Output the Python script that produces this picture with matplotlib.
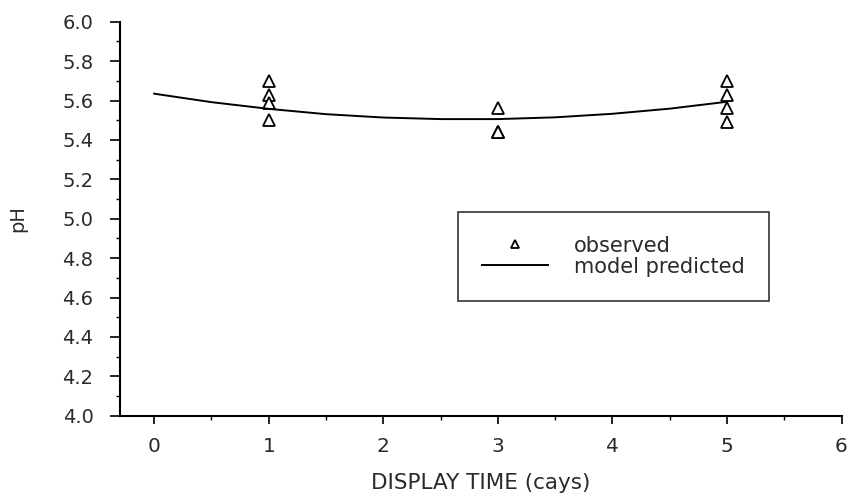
import matplotlib
matplotlib.use("Agg")
import matplotlib.pyplot as plt
from matplotlib.ticker import MultipleLocator, FormatStrFormatter

# observed pH, four samples per display day
obs_days = [1, 1, 1, 1, 3, 3, 3, 3, 5, 5, 5, 5]
obs_ph = [5.70, 5.63, 5.59, 5.50, 5.56, 5.44, 5.44, 5.44, 5.70, 5.63, 5.56, 5.49]

# model predicted curve
model_days = [0, 0.5, 1, 1.5, 2, 2.5, 3, 3.5, 4, 4.5, 5]
model_ph = [5.635, 5.592, 5.558, 5.531, 5.514, 5.506, 5.506, 5.515, 5.533, 5.559, 5.594]

x_ticks = [0, 1, 2, 3, 4, 5, 6]

plt.rcParams['font.family'] = ['DejaVu Sans']
text_color = '#2a2a2a'

fig = plt.figure(figsize=(8.5, 4.95), dpi=100)
ax = fig.add_axes([0.141, 0.160, 0.849, 0.796])

ax.plot(obs_days, obs_ph, linestyle='none', marker='^', markersize=8.5,
        markerfacecolor='white', markeredgecolor='black', markeredgewidth=1.3,
        label='observed')
ax.plot(model_days, model_ph, color='black', linewidth=1.4, label='model predicted')

ax.set_xlim(-0.3, 6.0)
ax.set_ylim(4.0, 6.0)
ax.set_xticks(x_ticks)
ax.xaxis.set_minor_locator(MultipleLocator(0.5))
ax.yaxis.set_major_locator(MultipleLocator(0.2))
ax.yaxis.set_minor_locator(MultipleLocator(0.1))
ax.yaxis.set_major_formatter(FormatStrFormatter('%.1f'))

for side in ['top', 'right']:
    ax.spines[side].set_visible(False)
for side in ['left', 'bottom']:
    ax.spines[side].set_linewidth(1.5)

ax.tick_params(which='major', direction='out', length=7, width=1.2,
               colors='black', labelcolor=text_color)
ax.tick_params(which='minor', direction='out', length=3, width=1.0)
ax.tick_params(axis='y', which='major', labelsize=14, pad=12)
ax.tick_params(axis='x', which='major', labelsize=14.5, pad=9, length=6)

ax.set_xlabel('DISPLAY TIME (cays)', fontsize=15.5, color=text_color)
ax.xaxis.set_label_coords(0.5, -0.145)
ax.set_ylabel('pH', fontsize=14, color=text_color)
ax.yaxis.set_label_coords(-0.129, 0.5)

leg = ax.legend(loc='upper left', bbox_to_anchor=(0.468, 0.518),
                frameon=True, fancybox=False, edgecolor='black', fontsize=15,
                handlelength=3.2, handletextpad=1.25, borderpad=1.15,
                borderaxespad=0, labelspacing=0.05, markerscale=0.7)
leg.get_frame().set_linewidth(1.2)
for t in leg.get_texts():
    t.set_color(text_color)

fig.savefig('out.png', dpi=100)
